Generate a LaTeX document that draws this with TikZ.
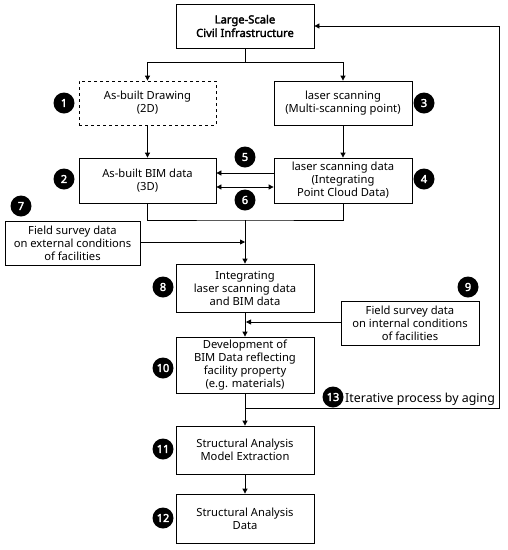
\documentclass[tikz,border=0pt]{standalone}
\usepackage{fontspec}
\setmainfont{Noto Sans}
\newfontfamily\boldnoto{Noto Sans}[FakeBold=2.5]
\usetikzlibrary{arrows.meta}
\tikzset{
  box/.style={draw, line width=0.8pt, minimum width=138pt, minimum height=44pt, align=center, inner sep=2pt, font=\fontsize{11.2}{13}\selectfont},
  num/.style={circle, fill=black, text=white, minimum size=21pt, inner sep=0pt, font=\fontsize{11}{12}\selectfont\boldnoto},
  ln/.style={line width=0.8pt},
  arr/.style={ln, -{Triangle[length=5pt,width=5pt]}},
}
\begin{document}
\begin{tikzpicture}[x=1pt,y=-1pt]
\useasboundingbox (0,0) rectangle (508,550);
% boxes
\node[box, font=\fontsize{11.2}{13.5}\selectfont\boldnoto] (b0) at (245,26) {Large-Scale\\Civil Infrastructure};
\node[box, dashed, minimum width=137pt] (b1) at (147.5,103) {As-built Drawing\\(2D)};
\node[box] (b3) at (343,103) {laser scanning\\(Multi-scanning point)};
\node[box, minimum width=137pt, minimum height=45pt] (b2) at (147.5,180.5) {As-built BIM data\\(3D)};
\node[box, minimum height=45pt] (b4) at (343,180.5) {laser scanning data\\(Integrating\\Point Cloud Data)};
\node[box, minimum width=135pt] (b7) at (72.5,243) {Field survey data\\on external conditions\\of facilities};
\node[box, minimum height=48pt] (b8) at (245,288) {Integrating\\laser scanning data\\and BIM data};
\node[box] (b9) at (410,323) {Field survey data\\on internal conditions\\of facilities};
\node[box, minimum height=56pt] (b10) at (245,365) {Development of\\BIM Data reflecting\\facility property\\(e.g. materials)};
\node[box, minimum height=48pt] (b11) at (245,450) {Structural Analysis\\Model Extraction};
\node[box, minimum height=49pt] (b12) at (245,518.5) {Structural Analysis\\Data};
% numbers
\node[num] (n1) at (64,103) {1};
\node[num] (n2) at (64,179) {2};
\node[num] (n3) at (424,103) {3};
\node[num] (n4) at (424,179) {4};
\node[num] (n5) at (245,157) {5};
\node[num] (n6) at (245,200) {6};
\node[num] (n7) at (21,206) {7};
\node[num] (n8) at (163,287) {8};
\node[num] (n9) at (468,287) {9};
\node[num] (n10) at (163,368) {10};
\node[num] (n11) at (163,449) {11};
\node[num] (n12) at (163,518) {12};
\node[num] (n13) at (333,397) {13};
\node[anchor=west, inner sep=0pt, font=\fontsize{12.4}{14}\selectfont] (t13) at (345,399) {Iterative process by aging};
% connectors
\coordinate (j0) at (245,62);
\draw[ln] (b0.south) -- (j0);
\draw[arr] (j0) -| (b1.north);
\draw[arr] (j0) -| (b3.north);
\draw[arr] (b1) -- (b2);
\draw[arr] (b3) -- (b4);
\draw[arr] ([yshift=7.5pt]b4.west) -- ([yshift=7.5pt]b2.east);
\draw[ln, {Triangle[length=5pt,width=5pt]}-{Triangle[length=5pt,width=5pt]}] ([yshift=-6.5pt]b2.east) -- ([yshift=-6.5pt]b4.west);
\coordinate (j1) at (245,220);
\draw[ln] (b2.south) |- (j1) -| (b4.south);
\draw[arr] (j1) -- (b8.north);
\coordinate (e7) at (b7.east);
\coordinate (t7) at (245,242);
\draw[arr] (e7 |- t7) -- (t7);
\draw[arr] (b8) -- (b10);
\coordinate (t9) at (246,322);
\draw[arr] (b9.west |- t9) -- (t9);
\draw[arr] (b10) -- (b11);
\draw[arr] (b11) -- (b12);
\coordinate (j2) at (245,408);
\coordinate (c1) at (499,408);
\coordinate (c2) at (499,26);
\draw[arr] (j2) -- (c1) -- (c2) -- (b0.east);
\end{tikzpicture}
\end{document}
